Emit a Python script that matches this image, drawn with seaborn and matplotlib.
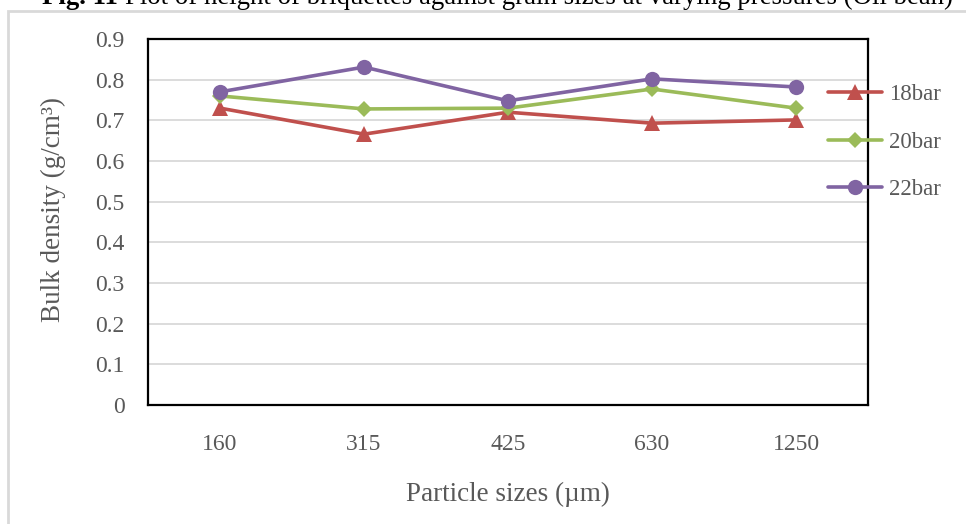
import matplotlib
matplotlib.use("Agg")
import matplotlib.pyplot as plt
import seaborn as sns
import pandas as pd
from matplotlib.patches import Rectangle

sizes = ["160", "315", "425", "630", "1250"]
bar18 = [0.730, 0.666, 0.720, 0.693, 0.701]
bar20 = [0.760, 0.728, 0.730, 0.777, 0.730]
bar22 = [0.770, 0.831, 0.748, 0.802, 0.782]
series_names = ["18bar", "20bar", "22bar"]
yticks = [0, 0.1, 0.2, 0.3, 0.4, 0.5, 0.6, 0.7, 0.8, 0.9]

df = pd.DataFrame({
    "size": sizes * 3,
    "density": bar18 + bar20 + bar22,
    "pressure": [s for s in series_names for _ in sizes],
})

sns.set_theme(style="white")
plt.rcParams["font.family"] = ["Liberation Serif", "DejaVu Serif"]

fig = plt.figure(figsize=(9.66, 5.24), dpi=100)
ax = fig.add_axes([148/966, 1-405/524, 720/966, 366/524])

palette = {"18bar": "#C0504D", "20bar": "#9BBB59", "22bar": "#8064A2"}
markers = {"18bar": "^", "20bar": "D", "22bar": "o"}
sizes_m = {"18bar": 11, "20bar": 8, "22bar": 11}

for name in series_names:
    sub = df[df["pressure"] == name]
    sns.lineplot(data=sub, x="size", y="density", ax=ax, color=palette[name],
                 marker=markers[name], markersize=sizes_m[name], linewidth=2.6,
                 markeredgewidth=0, label=name, sort=False)

ax.set_xlim(-0.5, 4.5)
ax.set_ylim(0, 0.9)
ax.set_yticks(yticks)
ax.set_yticklabels([f"{v:g}" for v in yticks])
ax.yaxis.grid(True, color="#D9D9D9", linewidth=1.3)
ax.xaxis.grid(False)
ax.set_axisbelow(True)
for sp in ax.spines.values():
    sp.set_visible(True)
    sp.set_color("black")
    sp.set_linewidth(1.6)
ax.tick_params(axis="both", length=0, labelsize=17, colors="#595959")
ax.tick_params(axis="x", pad=21)
ax.tick_params(axis="y", pad=17)
ax.set_xlabel("Particle sizes (µm)", fontsize=19.5, color="#595959")
ax.set_ylabel("Bulk density (g/cm³)", fontsize=19.5, color="#595959")
ax.xaxis.set_label_coords(0.5, (405-482)/366)
ax.yaxis.set_label_coords((66-148)/720, (405-210)/366)

handles, labels = ax.get_legend_handles_labels()
if ax.legend_:
    ax.legend_.remove()
fig.legend(handles, labels, loc="upper left", bbox_to_anchor=(819/966, 1-75/524),
           frameon=False, fontsize=16.5, labelcolor="#595959", handlelength=2.35,
           handletextpad=0.3, labelspacing=1.15, borderaxespad=0)

# outer border
fig.patches.append(Rectangle((8/966, -0.05), 1.1, 1-11/524+0.05, transform=fig.transFigure,
                             fill=False, edgecolor="#D9D9D9", linewidth=2))

# cropped title (cut off at the top, as in the reference)
t1 = fig.text(42/966, 1-4/524, "Fig. 11 ", fontsize=19.3, fontweight="bold",
              va="baseline", ha="left", color="black")
fig.canvas.draw()
bb = t1.get_window_extent()
fig.text(bb.x1/966, 1-4/524, "Plot of height of briquettes against grain sizes at varying pressures (Oil bean)",
         fontsize=19.3, va="baseline", ha="left", color="black")

fig.savefig("out.png", dpi=100)
